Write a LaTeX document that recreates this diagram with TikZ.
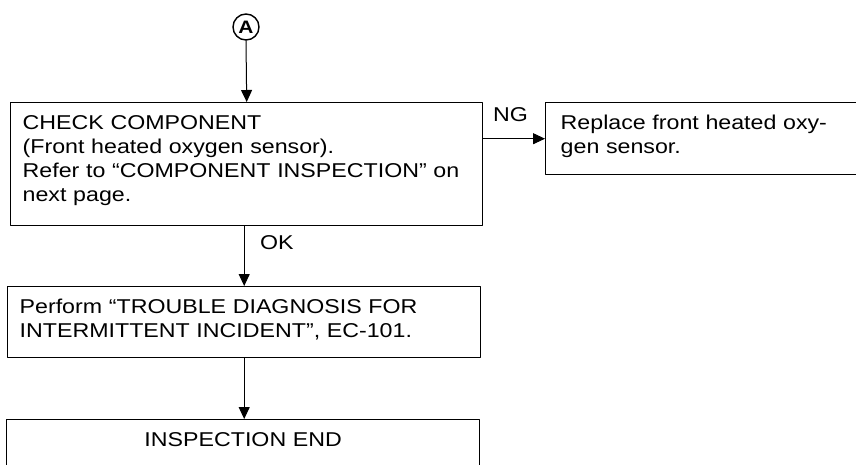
\documentclass[tikz,border=0pt]{standalone}
\usepackage{fontspec}
\setmainfont[FakeStretch=1.16]{Liberation Sans}
\usetikzlibrary{arrows.meta}
\tikzset{
  stepbox/.style={draw, line width=1.4pt, anchor=north west, align=left, inner xsep=12pt, inner ysep=12pt, text height=15pt},
  arr/.style={-{Triangle[length=12pt,width=11pt]}, line width=1pt},
  lbl/.style={inner sep=3.33pt}
}
\begin{document}
\begin{tikzpicture}[x=1pt, y=-1pt, line join=round, line cap=round, font=\fontsize{20}{24}\selectfont]
\clip (0,0) rectangle (856,464);
\node[circle, draw, line width=1.4pt, minimum size=26pt, inner sep=0pt, font=\fontsize{18}{18}\selectfont\bfseries] (a) at (246,27) {A};
\node[stepbox, text width=448pt, text depth=84pt] (check) at (10,102) {CHECK COMPONENT\\(Front heated oxygen sensor).\\Refer to “COMPONENT INSPECTION” on\\next page.};
\node[stepbox, text width=400pt, inner xsep=15pt, text depth=33pt] (replace) at (545,102) {Replace front heated oxy-\\gen sensor.};
\node[stepbox, text width=449pt, text depth=32pt] (perform) at (7,286) {Perform “TROUBLE DIAGNOSIS FOR\\INTERMITTENT INCIDENT”, EC-101.};
\node[stepbox, text width=449pt, align=center, text depth=60pt] (end) at (6,419) {INSPECTION END};
\draw[arr] (a.south) -- (check.north);
\draw[arr] (check.east |- replace.west) -- node[lbl, above, pos=.44, yshift=13pt]{NG} (replace.west);
\draw[arr] (perform.north |- check.south) -- node[lbl, right, pos=.28, xshift=12pt]{OK} (perform.north);
\draw[arr] (perform.south) -- (perform.south |- end.north);
\end{tikzpicture}
\end{document}
